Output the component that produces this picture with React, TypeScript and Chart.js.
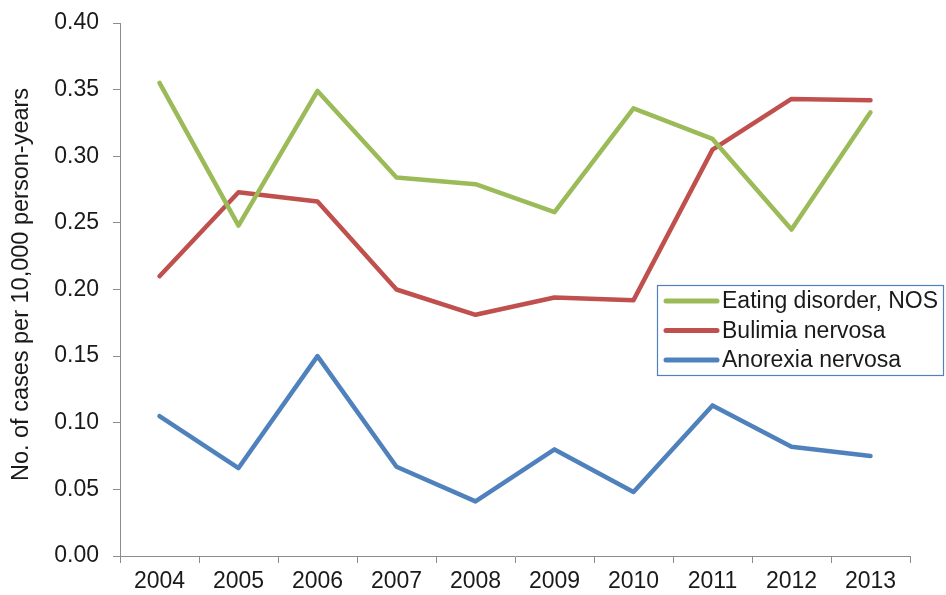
import React, { useEffect, useRef } from "react";
import { Chart, registerables } from "chart.js";

Chart.register(...registerables);

const years = ["2004", "2005", "2006", "2007", "2008", "2009", "2010", "2011", "2012", "2013"];
const eatingDisorderNOS = [0.355, 0.248, 0.349, 0.284, 0.279, 0.258, 0.336, 0.313, 0.245, 0.333];
const bulimiaNervosa = [0.21, 0.273, 0.266, 0.2, 0.181, 0.194, 0.192, 0.305, 0.343, 0.342];
const anorexiaNervosa = [0.105, 0.066, 0.15, 0.067, 0.041, 0.08, 0.048, 0.113, 0.082, 0.075];
const seriesNames = ["Eating disorder, NOS", "Bulimia nervosa", "Anorexia nervosa"];
const yAxisTitle = "No. of cases per 10,000 person-years";

const FONT = "'Liberation Sans', Arial, sans-serif";
const TEXT = "#1a1a1a";
const AXIS = "#8c8c8c";

const yTitlePlugin = {
  id: "yTitle",
  afterDraw(chart: any) {
    const ctx = chart.ctx;
    ctx.save();
    ctx.translate(22, 284.5);
    ctx.rotate(-Math.PI / 2);
    ctx.font = `23.5px ${FONT}`;
    ctx.fillStyle = TEXT;
    ctx.textAlign = "center";
    ctx.textBaseline = "middle";
    ctx.fillText(yAxisTitle, 0, 0);
    ctx.restore();
  },
};

const legendBoxPlugin = {
  id: "legendBox",
  afterDraw(chart: any) {
    const ctx = chart.ctx;
    const x = 657.5, y = 285.5, w = 286, h = 90;
    ctx.save();
    ctx.fillStyle = "#ffffff";
    ctx.fillRect(x, y, w, h);
    ctx.strokeStyle = "#4f81bd";
    ctx.lineWidth = 1.2;
    ctx.strokeRect(x, y, w, h);
    const rows = [301, 330.5, 360];
    ctx.font = `23px ${FONT}`;
    ctx.textBaseline = "middle";
    chart.data.datasets.forEach((ds: any, i: number) => {
      const ry = rows[i];
      ctx.strokeStyle = ds.borderColor;
      ctx.lineWidth = 5;
      ctx.lineCap = "round";
      ctx.beginPath();
      ctx.moveTo(666, ry);
      ctx.lineTo(717, ry);
      ctx.stroke();
      ctx.fillStyle = TEXT;
      ctx.fillText(ds.label, 722, ry + 1);
    });
    ctx.restore();
  },
};

export default function App() {
  const ref = useRef<HTMLCanvasElement | null>(null);
  useEffect(() => {
    document.body.style.margin = "0";
    const canvas = ref.current!;
    const mk = (label: string, data: number[], color: string) => ({
      label,
      data,
      borderColor: color,
      backgroundColor: color,
      borderWidth: 4.5,
      pointRadius: 0,
      tension: 0,
      borderCapStyle: "round" as const,
      borderJoinStyle: "round" as const,
    });
    const chart = new Chart(canvas, {
      type: "line",
      data: {
        labels: years,
        datasets: [
          mk(seriesNames[0], eatingDisorderNOS, "#9bbb59"),
          mk(seriesNames[1], bulimiaNervosa, "#c0504d"),
          mk(seriesNames[2], anorexiaNervosa, "#4f81bd"),
        ],
      },
      options: {
        responsive: false,
        animation: false,
        layout: { padding: { top: 23, right: 36, left: 0, bottom: 0 } },
        plugins: {
          legend: { display: false },
          tooltip: { enabled: false },
        },
        scales: {
          x: {
            offset: true,
            grid: {
              offset: true,
              drawOnChartArea: false,
              drawTicks: true,
              tickLength: 7,
              color: AXIS,
            },
            border: { color: AXIS, width: 1 },
            ticks: {
              color: TEXT,
              font: { family: FONT, size: 23 },
              padding: 5,
              maxRotation: 0,
              autoSkip: false,
            },
            afterFit(scale: any) {
              scale.height = 39;
              scale.paddingLeft = 0;
              scale.paddingRight = 0;
            },
          },
          y: {
            min: 0,
            max: 0.4,
            grid: {
              drawOnChartArea: false,
              drawTicks: true,
              tickLength: 7,
              color: AXIS,
            },
            border: { color: AXIS, width: 1 },
            ticks: {
              stepSize: 0.05,
              color: TEXT,
              font: { family: FONT, size: 23 },
              padding: 14,
              callback: (v: any) => Number(v).toFixed(2),
            },
            afterFit(scale: any) {
              scale.width = 120;
              scale.paddingTop = 0;
              scale.paddingBottom = 0;
            },
          },
        },
      },
      plugins: [legendBoxPlugin, yTitlePlugin],
    });
    return () => chart.destroy();
  }, []);
  return <canvas ref={ref} width={946} height={595} style={{ display: "block" }} />;
}
